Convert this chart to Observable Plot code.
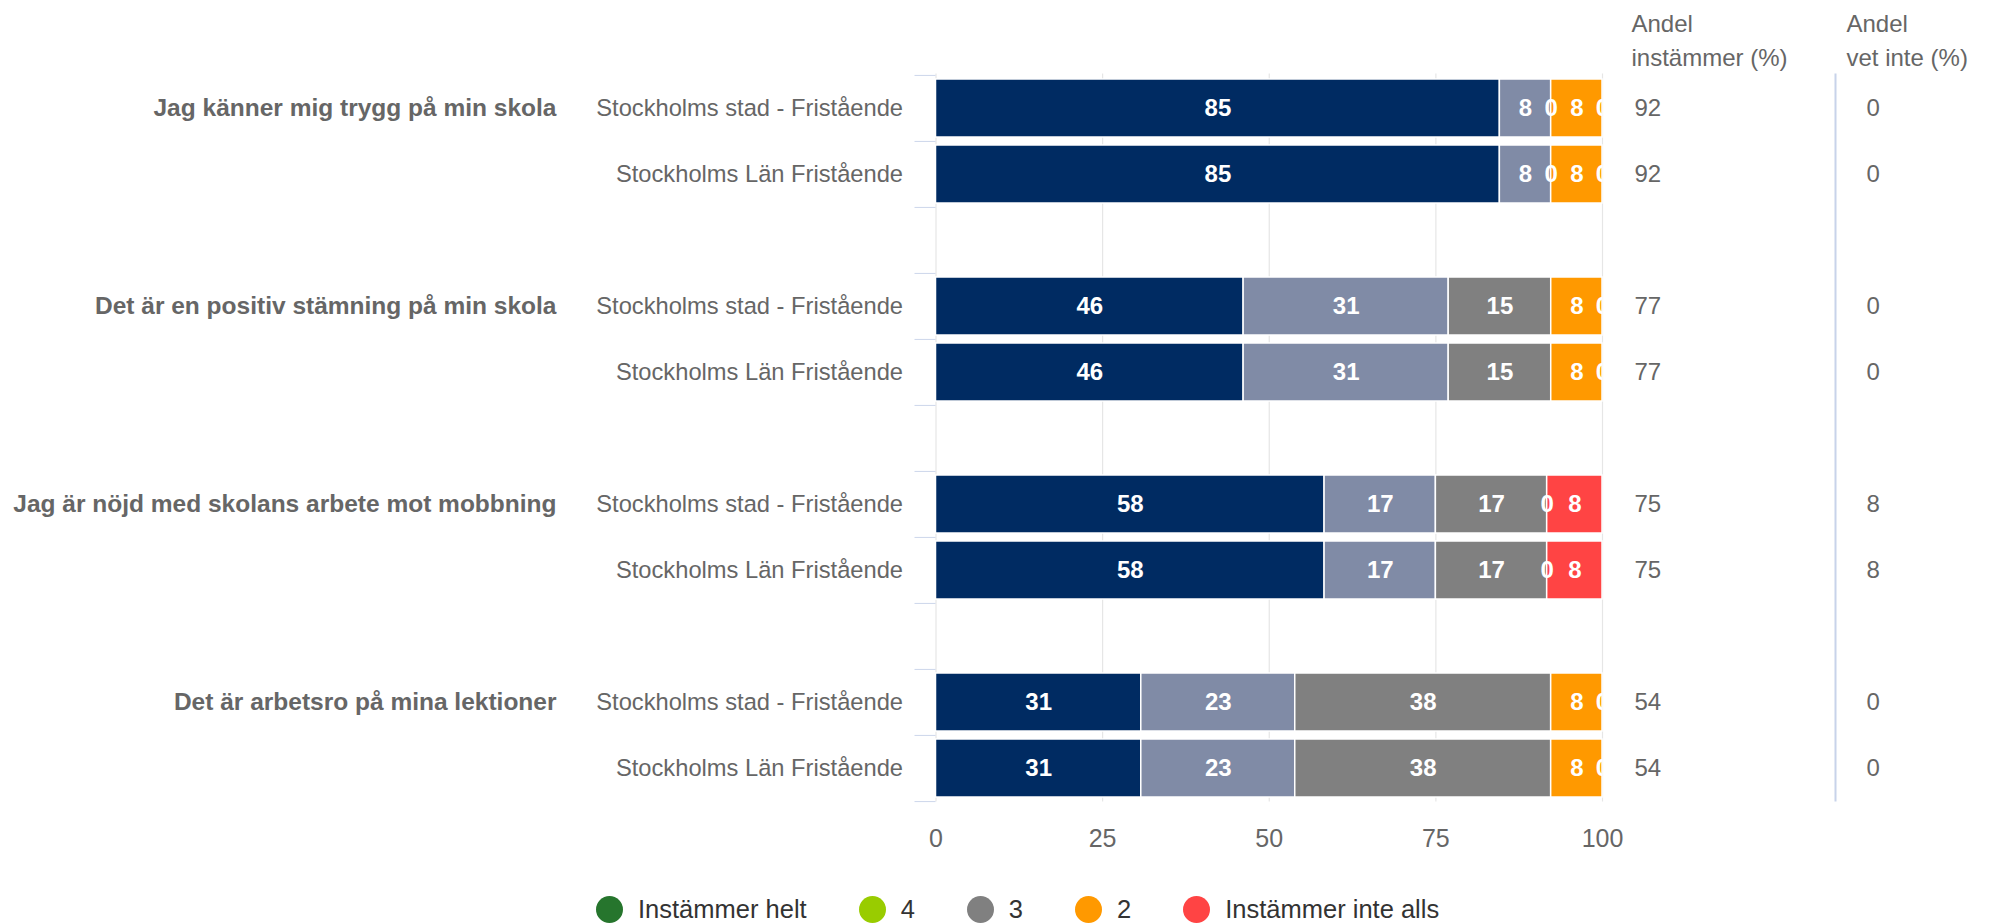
<!DOCTYPE html>
<html>
<head>
<meta charset="utf-8">
<script src="https://cdn.jsdelivr.net/npm/d3@7"></script>
<script src="https://cdn.jsdelivr.net/npm/@observablehq/plot@0.6"></script>
<style>
  body { margin: 0; background: #fff; font-family: "Liberation Sans", Arial, Helvetica, sans-serif; }
  #wrap { position: relative; width: 1998px; height: 923px; overflow: hidden; background: #fff; }
  #legend { position: absolute; left: 596px; top: 895px; display: flex; align-items: center; font-size: 25.5px; color: #333; white-space: nowrap; }
  .item { display: flex; align-items: center; margin-right: 52px; }
  .dot { width: 27px; height: 27px; border-radius: 50%; margin-right: 15px; flex: none; }
</style>
</head>
<body>
<div id="wrap"><div id="chart"></div><div id="legend"></div></div>
<script>
// ---- data (shares in %, labels show rounded values) ----
const questions = [
  "Jag känner mig trygg på min skola",
  "Det är en positiv stämning på min skola",
  "Jag är nöjd med skolans arbete mot mobbning",
  "Det är arbetsro på mina lektioner"
];
const units = ["Stockholms stad - Fristående", "Stockholms Län Fristående"];
const seriesNames = ["Instämmer helt", "4", "3", "2", "Instämmer inte alls"];
const instammerHelt = [84.6, 84.6, 46.2, 46.2, 58.3, 58.3, 30.8, 30.8];
const varde4 = [7.7, 7.7, 30.8, 30.8, 16.7, 16.7, 23.1, 23.1];
const varde3 = [0, 0, 15.4, 15.4, 16.7, 16.7, 38.4, 38.4];
const varde2 = [7.7, 7.7, 7.7, 7.7, 0, 0, 7.7, 7.7];
const instammerInteAlls = [0, 0, 0, 0, 8.3, 8.3, 0, 0];
const andelInstammer = [92, 92, 77, 77, 75, 75, 54, 54];
const andelVetInte = [0, 0, 0, 0, 8, 8, 0, 0];
const xTicks = [0, 25, 50, 75, 100];
const headerInstammer = "Andel\ninstämmer (%)";
const headerVetInte = "Andel\nvet inte (%)";

const barColors = ["#002b62", "#808ba6", "#808080", "#ff9900", "#ff4444"];
const legendColors = ["#26752d", "#99cc00", "#808080", "#ff9900", "#ff4444"];

// ---- derived tables ----
const seriesValues = [instammerHelt, varde4, varde3, varde2, instammerInteAlls];
const rows = questions.flatMap((q, qi) => units.map((u, ui) => {
  const i = qi * 2 + ui;
  return { key: "r" + i, question: q, unit: u, first: ui === 0, instammer: andelInstammer[i], vetInte: andelVetInte[i], idx: i };
}));
const slots = [];
questions.forEach((q, qi) => {
  if (qi > 0) slots.push("gap" + qi);
  slots.push("r" + (qi * 2), "r" + (qi * 2 + 1));
});
const data = rows.flatMap(r => seriesNames.map((s, si) => ({ row: r.key, series: s, value: seriesValues[si][r.idx] })));

// ---- layout ----
const W = 1998, H = 865;
const top0 = 73.5, bottom0 = 801.5, left0 = 935.5, right0 = 1602;
const band = (bottom0 - top0) / slots.length;
const font = '"Liberation Sans", Arial, Helvetica, sans-serif';

const stackOpts = { x: "value", y: "row", z: "series", order: seriesNames, offset: "normalize" };

const chart = Plot.plot({
  width: W,
  height: H,
  marginLeft: left0,
  marginRight: W - right0,
  marginTop: top0,
  marginBottom: H - bottom0,
  style: { fontFamily: font, fontSize: "24px", color: "#666", background: "white", overflow: "visible" },
  x: { domain: [0, 1], axis: null },
  y: { domain: slots, padding: 0, axis: null },
  color: { domain: seriesNames, range: barColors },
  marks: [
    Plot.ruleX(xTicks, { x: d => d / 100, stroke: "#e6e6e6", strokeWidth: 1.2 }),
    Plot.axisY(slots, { tickSize: 21, tickFormat: () => "", stroke: "#ccd6eb", dy: -band / 2, label: null }),
    Plot.axisY(slots.slice(-1), { tickSize: 21, tickFormat: () => "", stroke: "#ccd6eb", dy: band / 2, label: null }),
    Plot.barX(data, Plot.stackX({ ...stackOpts, fill: "series", stroke: "white", strokeWidth: 1.5, insetTop: 4, insetBottom: 4 })),
    Plot.text(data, Plot.stackX({ ...stackOpts, text: d => String(Math.round(d.value)), fill: "white", fontWeight: "bold", fontSize: 24, clip: true })),
    Plot.text(rows, { y: "key", text: "unit", frameAnchor: "left", dx: -33, textAnchor: "end", fill: "#666", fontSize: 23.7 }),
    Plot.text(rows.filter(r => r.first), { y: "key", text: "question", frameAnchor: "left", dx: -379.5, textAnchor: "end", fill: "#666", fontWeight: "bold", fontSize: 24.5 }),
    Plot.text(rows, { y: "key", text: d => String(d.instammer), frameAnchor: "right", dx: 32, textAnchor: "start", fill: "#666", fontSize: 24 }),
    Plot.text(rows, { y: "key", text: d => String(d.vetInte), frameAnchor: "right", dx: 264, textAnchor: "start", fill: "#666", fontSize: 24 }),
    Plot.ruleX([1], { dx: 233, stroke: "#c8d3ea", strokeWidth: 2 }),
    Plot.text([headerInstammer], { text: d => d, frameAnchor: "top-right", dx: 29, dy: -66.5, textAnchor: "start", lineAnchor: "top", lineHeight: 1.43, fill: "#666", fontSize: 24 }),
    Plot.text([headerVetInte], { text: d => d, frameAnchor: "top-right", dx: 244, dy: -66.5, textAnchor: "start", lineAnchor: "top", lineHeight: 1.43, fill: "#666", fontSize: 24 }),
    Plot.axisX(xTicks.map(t => t / 100), { anchor: "bottom", tickSize: 0, tickPadding: 27, tickFormat: d => String(Math.round(d * 100)), fontSize: 25, fill: "#666", label: null })
  ]
});
document.getElementById("chart").appendChild(chart);

// ---- legend ----
const legend = document.getElementById("legend");
seriesNames.forEach((s, i) => {
  const item = document.createElement("div");
  item.className = "item";
  const dot = document.createElement("span");
  dot.className = "dot";
  dot.style.background = legendColors[i];
  const label = document.createElement("span");
  label.textContent = s;
  item.appendChild(dot);
  item.appendChild(label);
  legend.appendChild(item);
});
</script>
</body>
</html>
